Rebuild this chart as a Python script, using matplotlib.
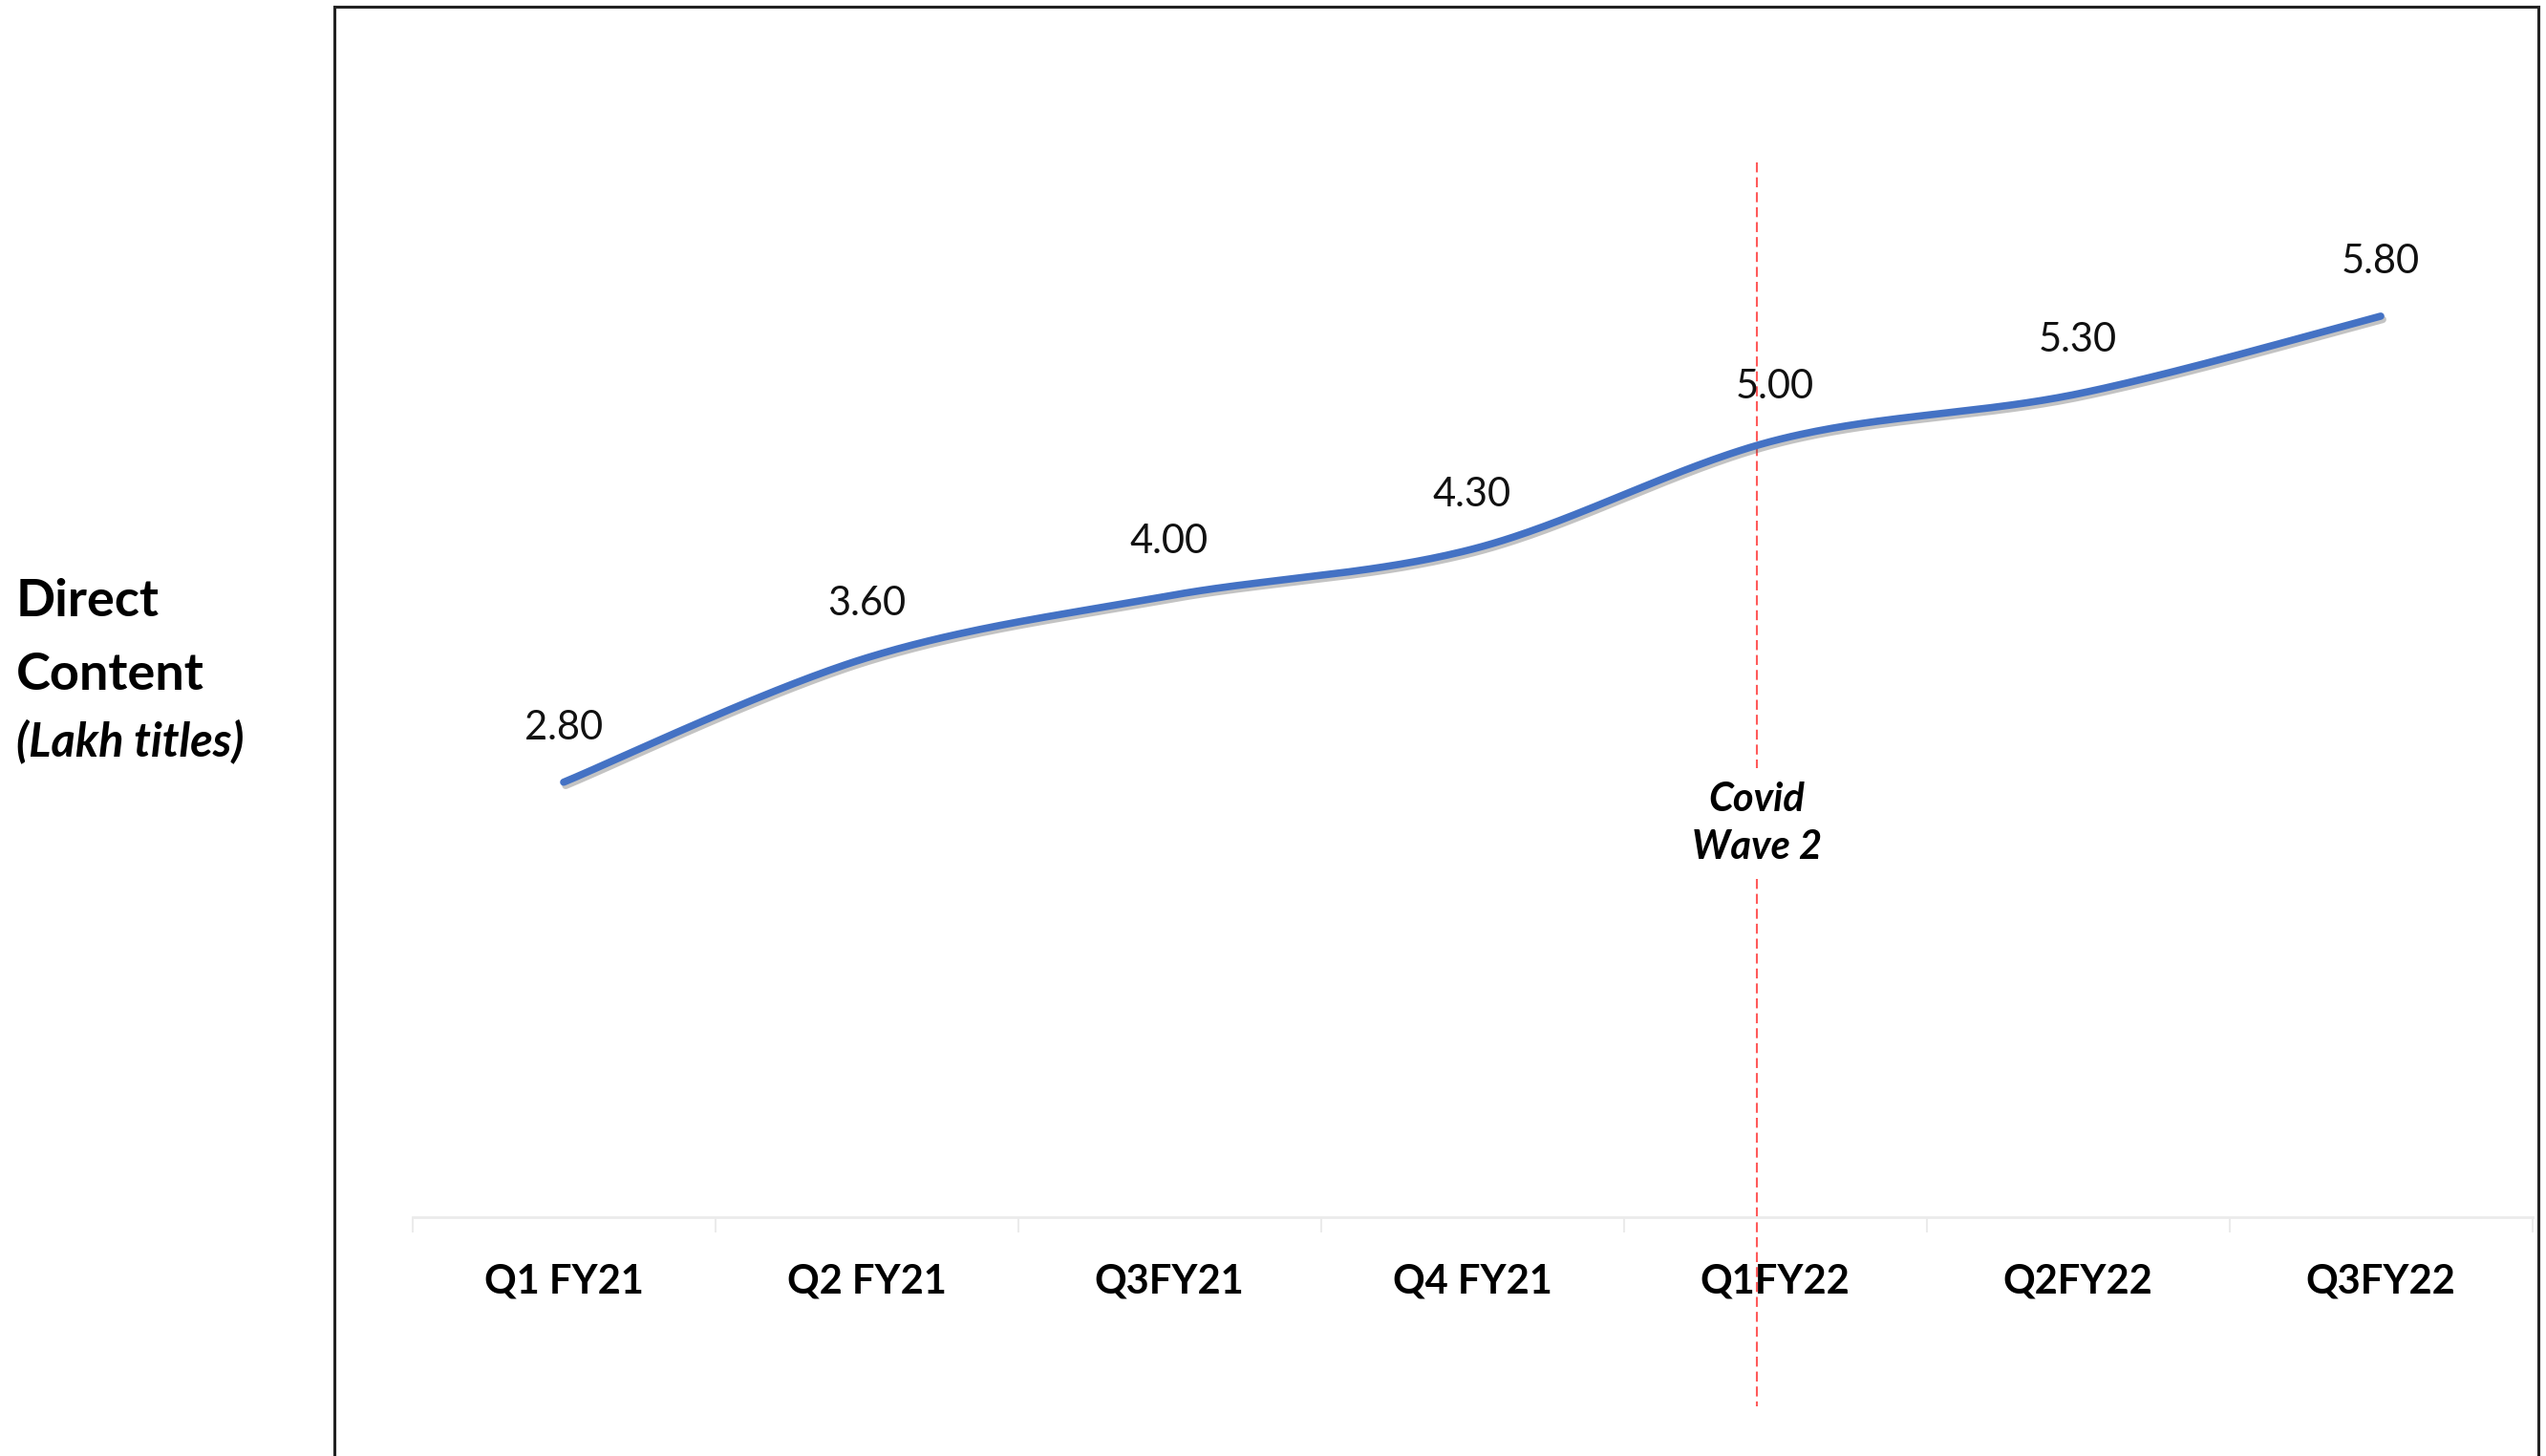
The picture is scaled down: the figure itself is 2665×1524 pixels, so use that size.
import numpy as np
import matplotlib
matplotlib.use("Agg")
import matplotlib.pyplot as plt
import matplotlib.patheffects as pe
from matplotlib.lines import Line2D
from matplotlib.transforms import blended_transform_factory

plt.rcParams['font.family'] = ['Lato', 'DejaVu Sans']

# Quarterly direct content (lakh titles)
quarters = ["Q1 FY21", "Q2 FY21", "Q3FY21", "Q4 FY21", "Q1FY22", "Q2FY22", "Q3FY22"]
titles = [2.80, 3.60, 4.00, 4.30, 5.00, 5.30, 5.80]
covid_quarter = "Q1FY22"
covid_label = "Covid\nWave 2"

W, H, DPI = 2665, 1524, 100
fig = plt.figure(figsize=(W / DPI, H / DPI), dpi=DPI)
ax = fig.add_axes([431.5 / W, (H - 1274) / H, 2219 / W, 1219.5 / H])
ax.set_xlim(-0.5, len(quarters) - 0.5)
ax.set_ylim(0, 7.5)


def catmull_rom(xs, ys, n=60):
    """Smoothed path through the points (uniform Catmull-Rom)."""
    P = np.column_stack([xs, ys]).astype(float)
    P = np.vstack([P[0], P, P[-1]])
    out = []
    t = np.linspace(0, 1, n)[:, None]
    for i in range(1, len(P) - 2):
        p0, p1, p2, p3 = P[i - 1], P[i], P[i + 1], P[i + 2]
        seg = 0.5 * ((2 * p1) + (-p0 + p2) * t
                     + (2 * p0 - 5 * p1 + 4 * p2 - p3) * t ** 2
                     + (-p0 + 3 * p1 - 3 * p2 + p3) * t ** 3)
        out.append(seg if i == 1 else seg[1:])
    out = np.vstack(out)
    return out[:, 0], out[:, 1]


x = np.arange(len(quarters))
sx, sy = catmull_rom(x, titles)
ax.plot(sx, sy, color="#4472C4", lw=5.5, solid_capstyle="round", zorder=3,
        path_effects=[pe.SimpleLineShadow(offset=(1.5, -2.5), shadow_color="#555555", alpha=0.35),
                      pe.Normal()])

for xi, v in zip(x, titles):
    ax.annotate(f"{v:.2f}", (xi, v), xytext=(0, 32), textcoords="offset points",
                ha="center", va="baseline", fontsize=30, color="#111111", zorder=4)

# Axis: light baseline with boundary ticks, bold category labels
for s in ["top", "right", "left"]:
    ax.spines[s].set_visible(False)
ax.spines["bottom"].set_color("#EBEBEB")
ax.spines["bottom"].set_linewidth(2)
ax.set_yticks([])
ax.set_xticks(x)
ax.set_xticklabels(quarters, fontsize=30, fontweight="bold")
ax.set_xticks(np.arange(len(quarters) + 1) - 0.5, minor=True)
ax.tick_params(axis="x", which="major", length=0, pad=35)
ax.tick_params(axis="x", which="minor", length=11.5, width=1.5, color="#EBEBEB")

# Covid wave marker
cx = quarters.index(covid_quarter) - 0.06
trans = blended_transform_factory(ax.transData, fig.transFigure)
ax.add_line(Line2D([cx, cx], [1 - 170 / H, 1 - 1472 / H], transform=trans,
                   color="#FF5A5A", lw=1.5, dashes=(5, 2.5), clip_on=False, zorder=1))
ax.text(cx, 1 - 862 / H, covid_label, transform=trans, ha="center", va="center",
        fontsize=30, fontweight="bold", fontstyle="italic", linespacing=1.4, zorder=2,
        bbox=dict(facecolor="white", edgecolor="none", pad=10))

# Outer frame
fc = "#222222"
fig.add_artist(Line2D([350 / W, 350 / W], [0, 1 - 7 / H], color=fc, lw=2.2))
fig.add_artist(Line2D([350 / W, 2657 / W], [1 - 7 / H, 1 - 7 / H], color=fc, lw=2.2))
fig.add_artist(Line2D([2657 / W, 2657 / W], [0, 1 - 7 / H], color=fc, lw=2.2))

# Side title
fig.text(17 / W, 1 - 630 / H, "Direct", fontsize=39, fontweight="bold", va="center", ha="left")
fig.text(17 / W, 1 - 707 / H, "Content", fontsize=39, fontweight="bold", va="center", ha="left")
fig.text(17 / W, 1 - 776 / H, "(Lakh titles)", fontsize=35, fontweight="bold",
         fontstyle="italic", va="center", ha="left")

fig.savefig("out.png", dpi=DPI, facecolor="white")
